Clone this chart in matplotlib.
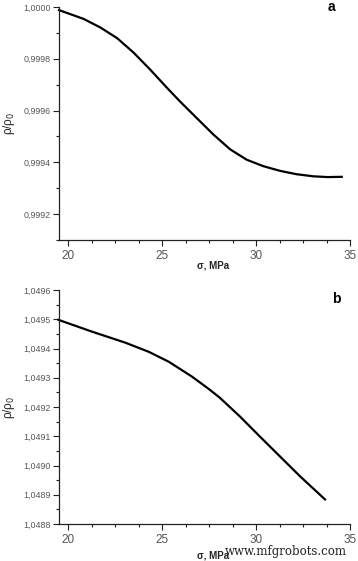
import matplotlib
matplotlib.use("Agg")
import matplotlib.pyplot as plt
from matplotlib.ticker import MultipleLocator, FuncFormatter

# Panel a data
sigma_a = [19.50, 19.66, 20.81, 21.70, 22.59, 23.47, 24.36, 25.25, 25.96, 26.85,
           27.73, 28.62, 29.50, 30.39, 31.28, 32.16, 33.05, 33.80, 34.56]
rho_a = [0.999988, 0.999984, 0.999954, 0.999921, 0.999880, 0.999824, 0.999758,
         0.999688, 0.999634, 0.999570, 0.999507, 0.999450, 0.999410, 0.999385,
         0.999367, 0.999354, 0.999346, 0.999343, 0.999344]

# Panel b data
sigma_b = [19.47, 21.24, 23.03, 24.27, 25.34, 26.58, 27.47, 28.06, 29.13,
           30.20, 31.27, 32.34, 33.67]
rho_b = [1.049498, 1.049458, 1.049420, 1.049389, 1.049355, 1.049304, 1.049262,
         1.049232, 1.049168, 1.049099, 1.049031, 1.048963, 1.048884]

yticks_a = [0.9992, 0.9994, 0.9996, 0.9998, 1.0000]
yticks_b = [1.0488, 1.0489, 1.0490, 1.0491, 1.0492, 1.0493, 1.0494, 1.0495, 1.0496]
xticks = [20, 25, 30, 35]

plt.rcParams['font.family'] = ['Liberation Sans', 'DejaVu Sans']

W, H = 358, 561
fig = plt.figure(figsize=(W / 100, H / 100), dpi=100)

def px_axes(l, t, r, b):
    return fig.add_axes([l / W, 1 - b / H, (r - l) / W, (b - t) / H])

ax1 = px_axes(59, 7, 350, 240)
ax2 = px_axes(59, 290, 350, 524)

fmt = FuncFormatter(lambda v, p: f"{v:.4f}".replace('.', ','))

def style(ax, yt, ymin, ymax, yminor):
    for s in ['top', 'right']:
        ax.spines[s].set_visible(False)
    for s in ['left', 'bottom']:
        ax.spines[s].set_color('#222222')
        ax.spines[s].set_linewidth(0.9)
    ax.set_xlim(19.5, 35)
    ax.set_ylim(ymin, ymax)
    ax.set_xticks(xticks)
    ax.xaxis.set_minor_locator(MultipleLocator(1.25))
    ax.set_yticks(yt)
    ax.yaxis.set_minor_locator(MultipleLocator(yminor))
    ax.yaxis.set_major_formatter(fmt)
    ax.tick_params(axis='both', which='major', direction='out', length=4, width=0.8,
                   color='#222222')
    ax.tick_params(axis='both', which='minor', direction='out', length=2.5, width=0.8,
                   color='#222222')
    ax.tick_params(axis='y', labelsize=6.4, labelcolor='#555555', pad=2)
    ax.tick_params(axis='x', labelsize=8.5, labelcolor='#555555', pad=3)
    ax.set_xlabel('σ, MPa', fontsize=7, fontweight='bold', color='#222222')
    ax.xaxis.set_label_coords(0.53, -0.09)
    ax.set_ylabel('ρ/ρ$_0$', fontsize=8.5, color='#222222')
    ax.yaxis.set_label_coords(-0.145, 0.5)

style(ax1, yticks_a, 0.9991, 1.0000, 0.0001)
style(ax2, yticks_b, 1.0488, 1.0496, 0.00005)
ax2.xaxis.set_label_coords(0.53, -0.115)

ax1.plot(sigma_a, rho_a, color='black', lw=1.6, clip_on=False, solid_joinstyle='round')
ax2.plot(sigma_b, rho_b, color='black', lw=1.6, clip_on=False, solid_joinstyle='round')

fig.text(331 / W, 1 - 7 / H, 'a', fontsize=10, fontweight='bold', ha='center', va='center')
fig.text(336 / W, 1 - 299 / H, 'b', fontsize=10, fontweight='bold', ha='center', va='center')

fig.text(347 / W, 1 - 552 / H, 'www.mfgrobots.com', fontsize=8.5, family='DejaVu Serif',
         ha='right', va='center', color='#222222')

fig.savefig('out.png', dpi=100)
